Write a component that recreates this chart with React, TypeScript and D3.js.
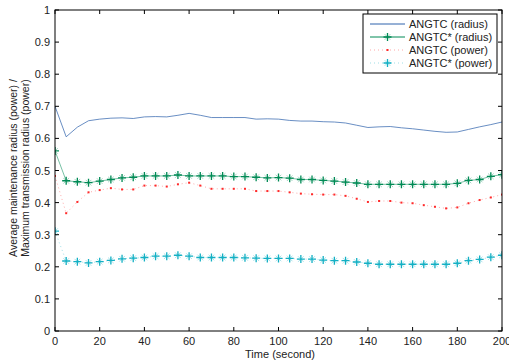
import React from "react";
import * as d3 from "d3";

const times: number[] = d3.range(0, 201, 5);

const angtcRadius: number[] = [
  0.70, 0.605, 0.635, 0.655, 0.66, 0.663, 0.664, 0.662, 0.667, 0.668, 0.667,
  0.672, 0.678, 0.672, 0.665, 0.665, 0.665, 0.665, 0.66, 0.661, 0.66, 0.656,
  0.654, 0.654, 0.652, 0.651, 0.648, 0.641, 0.634, 0.636, 0.637, 0.633, 0.63,
  0.626, 0.622, 0.619, 0.62, 0.628, 0.636, 0.643, 0.651,
];

const angtcStarRadius: number[] = [
  0.561, 0.468, 0.465, 0.462, 0.467, 0.472, 0.477, 0.479, 0.483, 0.483, 0.483,
  0.486, 0.483, 0.483, 0.483, 0.483, 0.481, 0.481, 0.479, 0.477, 0.478, 0.476,
  0.472, 0.472, 0.469, 0.467, 0.464, 0.461, 0.457, 0.457, 0.457, 0.457, 0.457,
  0.457, 0.457, 0.457, 0.46, 0.469, 0.472, 0.482, 0.487,
];

const angtcPower: number[] = [
  0.483, 0.367, 0.402, 0.432, 0.439, 0.445, 0.441, 0.441, 0.453, 0.453, 0.45,
  0.457, 0.462, 0.453, 0.443, 0.443, 0.443, 0.443, 0.436, 0.436, 0.436, 0.432,
  0.428, 0.426, 0.425, 0.425, 0.421, 0.412, 0.402, 0.405, 0.405, 0.4, 0.398,
  0.392, 0.387, 0.382, 0.385, 0.398, 0.408, 0.416, 0.425,
];

const angtcStarPower: number[] = [
  0.311, 0.218, 0.216, 0.212, 0.216, 0.22, 0.225, 0.227, 0.229, 0.233, 0.233,
  0.236, 0.233, 0.229, 0.229, 0.229, 0.229, 0.228, 0.227, 0.226, 0.226, 0.226,
  0.224, 0.224, 0.221, 0.219, 0.219, 0.215, 0.211, 0.208, 0.208, 0.208, 0.208,
  0.208, 0.208, 0.208, 0.211, 0.219, 0.223, 0.23, 0.236,
];

const xTicks: number[] = d3.range(0, 201, 20);
const yTicks: number[] = d3.range(0, 1.0001, 0.1);
const legendLabels: string[] = [
  "ANGTC (radius)",
  "ANGTC* (radius)",
  "ANGTC (power)",
  "ANGTC* (power)",
];

const W = 509;
const H = 361;
const M = { left: 55, right: 502, top: 10, bottom: 331 };
const FONT = "'Liberation Sans', Arial, Helvetica, sans-serif";

const BLUE = "#2e62ac";
const GREEN = "#008a55";
const RED = "#ff2a2a";
const CYAN = "#13b0c4";

function Asterisk({ x, y, color, s = 4 }: { x: number; y: number; color: string; s?: number }) {
  const d = s * 0.7;
  return (
    <g>
      <path d={`M${x - d},${y - d}L${x + d},${y + d}M${x - d},${y + d}L${x + d},${y - d}`} stroke={color} strokeWidth={0.8} opacity={0.45} />
      <path d={`M${x - s},${y}L${x + s},${y}M${x},${y - s}L${x},${y + s}`} stroke={color} strokeWidth={1.3} />
    </g>
  );
}

export default function App() {
  const x = d3.scaleLinear().domain([0, 200]).range([M.left, M.right]);
  const y = d3.scaleLinear().domain([0, 1]).range([M.bottom, M.top]);
  const line = (vals: number[]) =>
    d3.line<number>().x((_, i) => x(times[i])).y((v) => y(v))(vals) || "";

  const legX0 = 363;
  const legY0 = 14;
  const legW = 134;
  const legH = 59;
  const rowY = (i: number) => 24 + i * 13;

  return (
    <svg
      width={W}
      height={H}
      style={{ position: "fixed", left: 0, top: 0, background: "#fff" }}
      fontFamily={FONT}
    >
      <rect x={0} y={0} width={W} height={H} fill="#fff" />
      <defs>
        <clipPath id="plot">
          <rect x={M.left} y={M.top} width={M.right - M.left} height={M.bottom - M.top} />
        </clipPath>
      </defs>

      {/* series */}
      <g clipPath="url(#plot)">
        <path d={line(angtcRadius)} fill="none" stroke={BLUE} strokeWidth={0.9} opacity={0.8} />
        <path d={line(angtcStarRadius)} fill="none" stroke={GREEN} strokeWidth={0.9} opacity={0.6} />
        <path d={line(angtcPower)} fill="none" stroke={RED} strokeWidth={0.8} strokeDasharray="1,3" opacity={0.5} />
        <path d={line(angtcStarPower)} fill="none" stroke={CYAN} strokeWidth={0.8} strokeDasharray="1,3" opacity={0.5} />
        {angtcStarRadius.map((v, i) => (
          <Asterisk key={"g" + i} x={x(times[i])} y={y(v)} color={GREEN} />
        ))}
        {angtcPower.map((v, i) => (
          <rect key={"r" + i} x={x(times[i]) - 1} y={y(v) - 1} width={2} height={2} fill={RED} />
        ))}
        {angtcStarPower.map((v, i) => (
          <Asterisk key={"c" + i} x={x(times[i])} y={y(v)} color={CYAN} />
        ))}
      </g>

      {/* axes box */}
      <rect x={M.left} y={M.top} width={M.right - M.left} height={M.bottom - M.top} fill="none" stroke="#000" strokeWidth={1} />

      {/* x ticks */}
      {xTicks.map((t) => (
        <g key={"xt" + t}>
          <line x1={x(t)} x2={x(t)} y1={M.bottom} y2={M.bottom - 4} stroke="#000" />
          <line x1={x(t)} x2={x(t)} y1={M.top} y2={M.top + 4} stroke="#000" />
          <text x={x(t)} y={345} fontSize={11} textAnchor="middle" fill="#222">
            {t}
          </text>
        </g>
      ))}
      {/* y ticks */}
      {yTicks.map((t) => (
        <g key={"yt" + t.toFixed(1)}>
          <line x1={M.left} x2={M.left + 4} y1={y(t)} y2={y(t)} stroke="#000" />
          <line x1={M.right} x2={M.right - 4} y1={y(t)} y2={y(t)} stroke="#000" />
          <text x={50} y={y(t) + 4} fontSize={11} textAnchor="end" fill="#222">
            {Number(t.toFixed(1)).toString()}
          </text>
        </g>
      ))}

      <text x={280} y={358} fontSize={11} textAnchor="middle" fill="#222">
        Time (second)
      </text>
      <text transform="translate(17,168) rotate(-90)" fontSize={10.5} textAnchor="middle" fill="#222">
        Average maintenance radius (power) /
      </text>
      <text transform="translate(29,168) rotate(-90)" fontSize={10.5} textAnchor="middle" fill="#222">
        Maximum transmission radius (power)
      </text>

      {/* legend */}
      <rect x={legX0} y={legY0} width={legW} height={legH} fill="#fff" stroke="#000" strokeWidth={1} />
      {legendLabels.map((lab, i) => {
        const cy = rowY(i);
        const lx1 = 370;
        const lx2 = 405;
        const mx = (lx1 + lx2) / 2;
        return (
          <g key={lab}>
            {i === 0 && <line x1={lx1} x2={lx2} y1={cy} y2={cy} stroke={BLUE} strokeWidth={1} />}
            {i === 1 && (
              <>
                <line x1={lx1} x2={lx2} y1={cy} y2={cy} stroke={GREEN} strokeWidth={1} />
                <Asterisk x={mx} y={cy} color={GREEN} />
              </>
            )}
            {i === 2 && (
              <>
                <line x1={lx1} x2={lx2} y1={cy} y2={cy} stroke={RED} strokeWidth={0.8} strokeDasharray="1,3" opacity={0.5} />
                <rect x={mx - 1} y={cy - 1} width={2} height={2} fill={RED} />
              </>
            )}
            {i === 3 && (
              <>
                <line x1={lx1} x2={lx2} y1={cy} y2={cy} stroke={CYAN} strokeWidth={0.8} strokeDasharray="1,3" opacity={0.5} />
                <Asterisk x={mx} y={cy} color={CYAN} />
              </>
            )}
            <text x={409} y={cy + 4} fontSize={11} fill="#222">
              {lab}
            </text>
          </g>
        );
      })}
    </svg>
  );
}
